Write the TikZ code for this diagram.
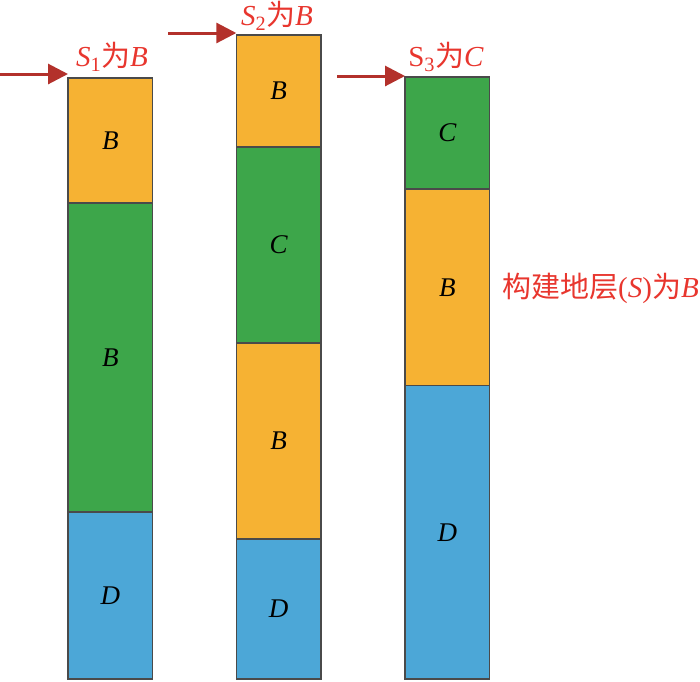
\documentclass[tikz,border=0pt]{standalone}
\usepackage{fontspec}
\setmainfont{Liberation Serif}
\newfontfamily\cjk{Noto Sans CJK SC}
\usetikzlibrary{arrows.meta}
\definecolor{segor}{HTML}{F6B233}
\definecolor{seggr}{HTML}{3DA64A}
\definecolor{segbl}{HTML}{4CA7D7}
\definecolor{lbred}{HTML}{E8362E}
\definecolor{arred}{HTML}{B3312B}
\definecolor{edge}{HTML}{4A4A4A}
\tikzset{
  seg/.style={draw=edge, line width=1.4pt, rectangle, inner sep=0pt, outer sep=0pt,
    minimum width=84.5pt, anchor=north west, font=\fontsize{27}{29}\selectfont\itshape},
  lbl/.style={text=lbred, inner sep=0pt, font=\fontsize{29}{31}\selectfont},
  arr/.style={draw=arred, line width=3pt, -{Triangle[length=20pt,width=20pt]}}
}
\begin{document}
\begin{tikzpicture}[x=1pt,y=-1pt]
\useasboundingbox (0,0) rectangle (700,681);
% column 1
\node[seg, fill=segor, minimum height=125pt] (c1a) at (68,78) {B};
\node[seg, fill=seggr, minimum height=309pt] (c1b) at (68,203) {B};
\node[seg, fill=segbl, minimum height=167pt] (c1c) at (68,512) {D};
% column 2
\node[seg, fill=segor, minimum height=112pt] (c2a) at (236.3,35) {B};
\node[seg, fill=seggr, minimum height=196pt] (c2b) at (236.3,147) {C};
\node[seg, fill=segor, minimum height=196pt] (c2c) at (236.3,343) {B};
\node[seg, fill=segbl, minimum height=140pt] (c2d) at (236.3,539) {D};
% column 3
\node[seg, fill=seggr, minimum height=112pt] (c3a) at (405,77) {C};
\node[seg, fill=segor, minimum height=196.5pt] (c3b) at (405,189) {B};
\node[seg, fill=segbl, minimum height=293.5pt] (c3c) at (405,385.5) {D};
% labels
\node[lbl] (l1) at (112,57) {\textit{S}\textsubscript{1}{\cjk 为}\textit{B}};
\node[lbl] (l2) at (277,16) {\textit{S}\textsubscript{2}{\cjk 为}\textit{B}};
\node[lbl] (l3) at (446,57) {S\textsubscript{3}{\cjk 为}\textit{C}};
\node[lbl, anchor=west] (l4) at (502,288) {{\cjk 构建地层}(\textit{S}){\cjk 为}\textit{B}};
% arrows
\coordinate (a1) at (0,74);
\coordinate (a2) at (168,33);
\coordinate (a3) at (337,76);
\draw[arr] (a1) -- (a1 -| c1a.west);
\draw[arr] (a2) -- (a2 -| c2a.west);
\draw[arr] (a3) -- (a3 -| c3a.west);
\end{tikzpicture}
\end{document}
